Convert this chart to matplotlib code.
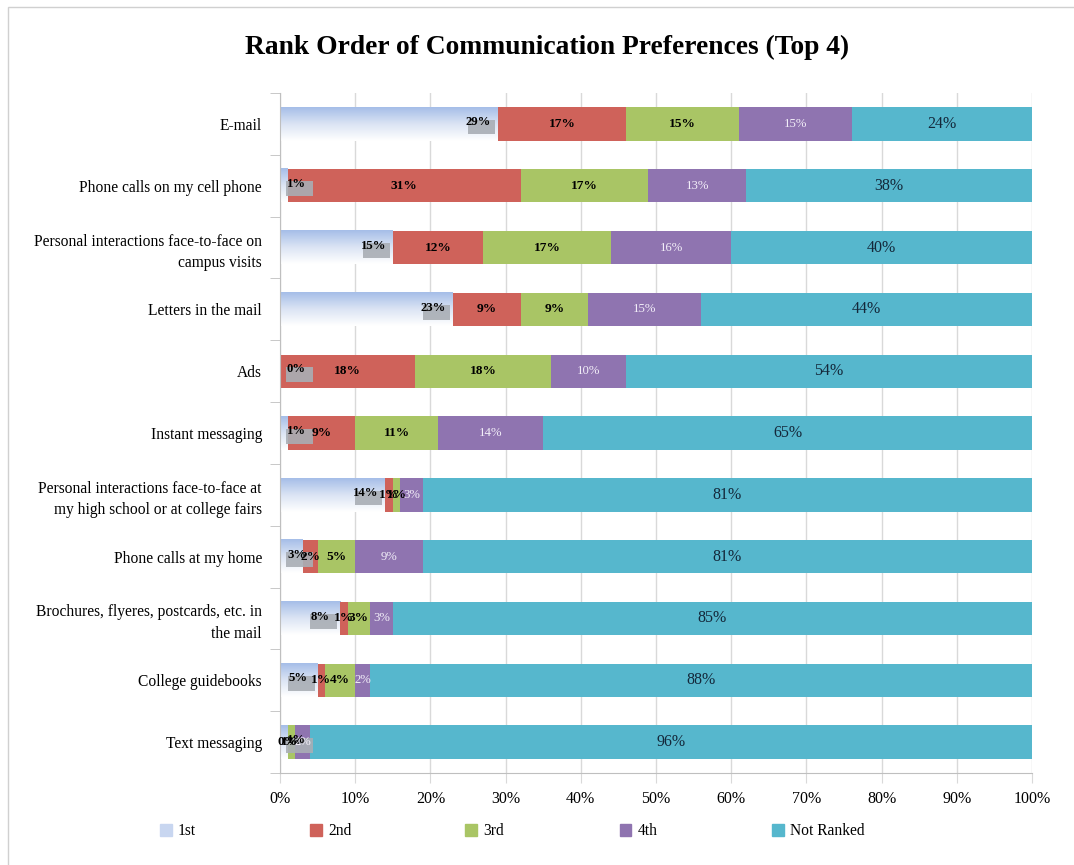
import numpy as np
import matplotlib
matplotlib.use("Agg")
import matplotlib.pyplot as plt
from matplotlib.patches import Rectangle, Patch
from matplotlib.colors import LinearSegmentedColormap

plt.rcParams["font.family"] = ["Liberation Serif", "DejaVu Serif"]

categories = [
    "E-mail",
    "Phone calls on my cell phone",
    "Personal interactions face-to-face on\ncampus visits",
    "Letters in the mail",
    "Ads",
    "Instant messaging",
    "Personal interactions face-to-face at\nmy high school or at college fairs",
    "Phone calls at my home",
    "Brochures, flyeres, postcards, etc. in\nthe mail",
    "College guidebooks",
    "Text messaging",
]
first = [29, 1, 15, 23, 0, 1, 14, 3, 8, 5, 1]
second = [17, 31, 12, 9, 18, 9, 1, 2, 1, 1, 0]
third = [15, 17, 17, 9, 18, 11, 1, 5, 3, 4, 1]
fourth = [15, 13, 16, 15, 10, 14, 3, 9, 3, 2, 2]
not_ranked = [24, 38, 40, 44, 54, 65, 81, 81, 85, 88, 96]
series_names = ["1st", "2nd", "3rd", "4th", "Not Ranked"]
x_ticks = list(range(0, 101, 10))

FIRST_TOP = "#a6bee8"
RED = "#cf625a"
GREEN = "#a9c565"
PURPLE = "#8f74b0"
TEAL = "#56b7cd"
GRID = "#d9d9d9"

fig = plt.figure(figsize=(10.74, 8.65), dpi=100)
ax = fig.add_axes([0.2607, 0.1064, 0.7002, 0.786])

y = np.arange(len(categories))
h = 0.54

# first choice bars: vertical blue-to-white gradient
grad = np.linspace(0, 1, 64).reshape(-1, 1)
cmap = LinearSegmentedColormap.from_list("first", [FIRST_TOP, "#dbe4f4", "#ffffff"])
for yi, v in zip(y, first):
    if v > 0:
        ax.imshow(grad, extent=(0, v, yi + h / 2, yi - h / 2), origin="upper",
                  cmap=cmap, aspect="auto", zorder=2, interpolation="bilinear")

left = np.array(first, dtype=float)
label_styles = [
    (second, RED, dict(color="black", fontweight="bold", fontsize=9.6)),
    (third, GREEN, dict(color="black", fontweight="bold", fontsize=9.6)),
    (fourth, PURPLE, dict(color="#f2eef8", fontsize=9.2)),
    (not_ranked, TEAL, dict(color="#14283a", fontsize=11.5)),
]
for vals, color, style in label_styles:
    ax.barh(y, vals, left=left, height=h, color=color, zorder=2)
    for yi, l, v in zip(y, left, vals):
        ax.text(l + v / 2, yi, f"{v}%", ha="center", va="center", zorder=4, **style)
    left += np.array(vals)

# first choice labels sit on a grey box at the end of the bar
for yi, v in zip(y, first):
    box_left = max(v - 4.0, 0.8)
    ax.add_patch(Rectangle((box_left, yi - 0.07), 3.6, 0.24, color="#a9aeb5",
                           alpha=0.9, zorder=3, linewidth=0))
    ax.text(box_left + 1.4, yi - 0.03, f"{v}%", ha="center", va="center",
            fontweight="bold", fontsize=9.2, color="black", zorder=4)

ax.set_xlim(0, 100)
ax.set_ylim(len(categories) - 0.5, -0.5)

ax.set_xticks(x_ticks)
ax.set_xticklabels([f"{t}%" for t in x_ticks], fontsize=11.5)
ax.tick_params(axis="x", length=7, color=GRID, pad=6)
ax.grid(axis="x", color=GRID, linewidth=1, zorder=0)
ax.set_axisbelow(True)

ax.set_yticks(y)
ax.set_yticklabels(categories, fontsize=11.2, linespacing=1.45)
ax.set_yticks(np.arange(-0.5, len(categories), 1), minor=True)
ax.tick_params(axis="y", which="major", length=0, pad=13)
ax.tick_params(axis="y", which="minor", length=7, color="#bfbfbf")

for side in ("top", "right"):
    ax.spines[side].set_visible(False)
ax.spines["left"].set_color("#bfbfbf")
ax.spines["bottom"].set_color("#bfbfbf")

fig.suptitle("Rank Order of Communication Preferences (Top 4)", x=0.509, y=0.96,
             fontsize=19.8, fontweight="bold")

# legend entries spaced evenly along the bottom
legend_colors = ["#c8d6f0", RED, GREEN, PURPLE, TEAL]
legend_x = [0.149, 0.289, 0.433, 0.577, 0.719]
for name, color, lx in zip(series_names, legend_colors, legend_x):
    fig.legend(handles=[Patch(color=color, label=name)], loc="center left",
               bbox_to_anchor=(lx, 0.039), frameon=False, fontsize=11.2,
               handlelength=0.75, handleheight=0.75, handletextpad=0.4,
               borderpad=0, borderaxespad=0)

# light outline around the chart area
fig.add_artist(Rectangle((0.0075, -0.01), 1.2, 1.002, transform=fig.transFigure,
                         fill=False, edgecolor="#d0d0d0", linewidth=1))

fig.savefig("out.png", dpi=100)
